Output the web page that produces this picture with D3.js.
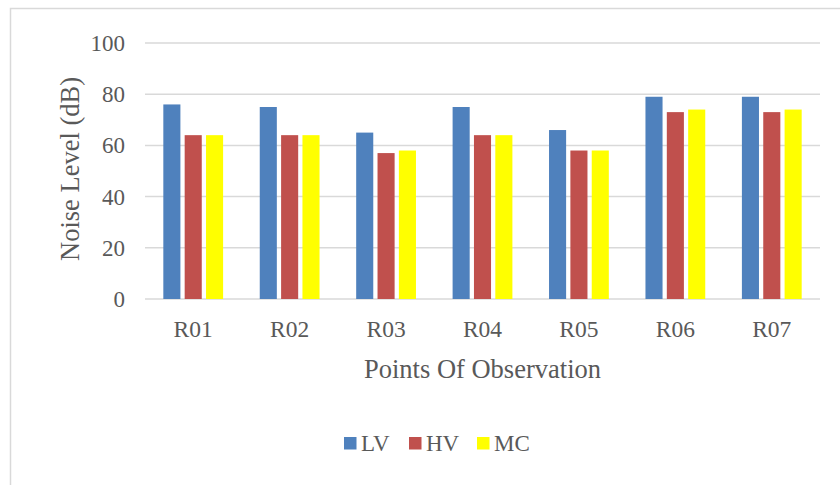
<!DOCTYPE html>
<meta charset="utf-8">
<head>
  <title>Noise Level by Point of Observation</title>
  <script src="https://cdn.jsdelivr.net/npm/d3@7"></script>
  <style>
    body {margin: 0; background: #fff;}
    text {font-family: "Liberation Serif", "Times New Roman", serif; fill: #595959;}
  </style>
</head>
<body>
  <div id="chart"></div>
  <script>
    // data
    var points = ["R01", "R02", "R03", "R04", "R05", "R06", "R07"];
    var series = ["LV", "HV", "MC"];
    var lv = [76, 75, 65, 75, 66, 79, 79];
    var hv = [64, 64, 57, 64, 58, 73, 73];
    var mc = [64, 64, 58, 64, 58, 74, 74];
    var yTicks = [0, 20, 40, 60, 80, 100];
    var colors = ["#4f81bd", "#c0504d", "#ffff00"];

    var width = 840, height = 485;
    var margins = {top: 43, right: 20, bottom: 186, left: 145};

    var svg = d3.select("#chart").append("svg")
      .attr("width", width)
      .attr("height", height);

    // chart area border
    svg.append("rect")
      .attr("x", 10.5).attr("y", 8.5)
      .attr("width", 840).attr("height", 490)
      .attr("fill", "none")
      .attr("stroke", "#d9d9d9")
      .attr("stroke-width", 1.5);

    var x0 = d3.scaleBand().domain(points)
      .range([margins.left, width - margins.right])
      .paddingInner(0.38).paddingOuter(0.19);
    var x1 = d3.scaleBand().domain(series)
      .range([0, x0.bandwidth()]).paddingInner(0.2).paddingOuter(0);
    var y = d3.scaleLinear().domain([0, 100])
      .range([height - margins.bottom, margins.top]);

    // gridlines
    svg.append("g").selectAll("line")
      .data(yTicks).enter().append("line")
      .attr("x1", margins.left).attr("x2", width - margins.right)
      .attr("y1", function(d){ return y(d); })
      .attr("y2", function(d){ return y(d); })
      .attr("stroke", "#d9d9d9").attr("stroke-width", 1.5);

    // y tick labels
    svg.append("g").selectAll("text")
      .data(yTicks).enter().append("text")
      .attr("x", margins.left - 20)
      .attr("y", function(d){ return y(d); })
      .attr("dy", "0.35em")
      .attr("text-anchor", "end")
      .style("font-size", "23px")
      .text(function(d){ return d; });

    var table = points.map(function(p, i){
      return {point: p, values: [lv[i], hv[i], mc[i]]};
    });

    var groups = svg.append("g").selectAll("g")
      .data(table).enter().append("g")
      .attr("transform", function(d){ return "translate(" + x0(d.point) + ",0)"; });

    groups.selectAll("rect")
      .data(function(d){ return d.values.map(function(v, j){ return {s: series[j], v: v, c: colors[j]}; }); })
      .enter().append("rect")
      .attr("x", function(d){ return x1(d.s); })
      .attr("width", x1.bandwidth())
      .attr("y", function(d){ return y(d.v); })
      .attr("height", function(d){ return y(0) - y(d.v); })
      .attr("fill", function(d){ return d.c; });

    // category labels
    svg.append("g").selectAll("text")
      .data(points).enter().append("text")
      .attr("x", function(d){ return x0(d) + x0.bandwidth() / 2; })
      .attr("y", y(0) + 38)
      .attr("text-anchor", "middle")
      .style("font-size", "23.5px")
      .text(function(d){ return d; });

    // axis titles
    svg.append("text")
      .attr("x", (margins.left + width - margins.right) / 2)
      .attr("y", y(0) + 79)
      .attr("text-anchor", "middle")
      .style("font-size", "26.5px")
      .text("Points Of Observation");

    svg.append("text")
      .attr("transform", "translate(79," + ((y(0) + y(100)) / 2 - 2) + ") rotate(-90)")
      .attr("text-anchor", "middle")
      .style("font-size", "26.5px")
      .text("Noise Level (dB)");

    // legend
    var legendX = [344, 409, 477];
    var legend = svg.append("g").selectAll("g")
      .data(series).enter().append("g")
      .attr("transform", function(d, i){ return "translate(" + legendX[i] + ",437)"; });
    legend.append("rect")
      .attr("width", 12.5).attr("height", 12.5)
      .attr("fill", function(d, i){ return colors[i]; });
    legend.append("text")
      .attr("x", 17).attr("y", 14)
      .style("font-size", "23px")
      .text(function(d){ return d; });
  </script>
</body>
</html>
